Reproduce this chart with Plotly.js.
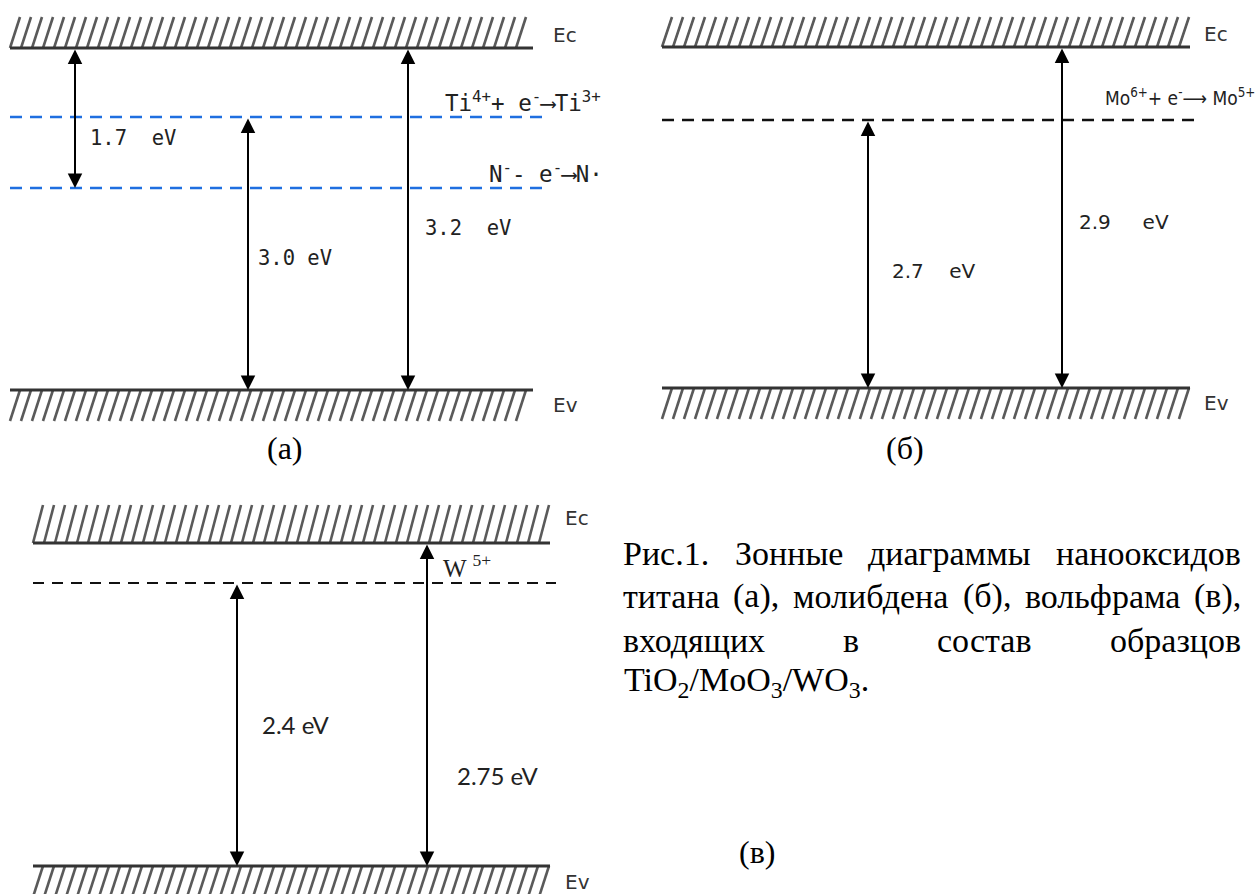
<!DOCTYPE html>
<html>
<head>
<meta charset="utf-8">
<script src="https://cdn.plot.ly/plotly-3.0.1.min.js"></script>
<style>html,body{margin:0;padding:0;background:#fff;}#chart{width:1256px;height:894px;}</style>
</head>
<body>
<div id="chart"></div>
<script>
// ---------------- DATA ----------------
const bandEdges = ['Ec', 'Ev'];
const panelTags = ['(a)', '(б)', '(в)'];

// panel (a) TiO2
const tiGaps = [1.7, 3.0, 3.2];
const tiLevels = ['Ti<sup>4+</sup>+ e<sup>-</sup>⟶Ti<sup>3+</sup>', 'N<sup>-</sup>- e<sup>-</sup>⟶N·'];
// panel (б) MoO3
const moGaps = [2.7, 2.9];
const moLevels = ['Mo<sup>6+</sup>+ e<sup>-</sup>⟶ Mo<sup>5+</sup>'];
// panel (в) WO3
const wGaps = [2.4, 2.75];
const wLevels = ['W <sup>5+</sup>'];

const captionLines = [
  'Рис.1. Зонные диаграммы нанооксидов',
  'титана (а), молибдена (б), вольфрама (в),',
  'входящих в состав образцов',
  'TiO<sub>2</sub>/MoO<sub>3</sub>/WO<sub>3</sub>.'
];

// ---------------- GEOMETRY / STYLE ----------------
const W = 1256, H = 894;
const geom = [
  { // (a)
    x0: 10, x1: 533, ec: 48, ecTop: 17, ev: 390, evBot: 421,
    levels: [117, 188], levelX1: 545, levelColor: '#1f6fe0', levelDash: '12px,8px', levelWidth: 2.5,
    arrows: [{x: 75, a: 'Ec', b: 1}, {x: 248, a: 0, b: 'Ev'}, {x: 408, a: 'Ec', b: 'Ev'}],
    gapPos: [[88, 138], [256, 258], [423, 228]], gapSpaces: [2, 1, 2],
    levelPos: [[443, 101], [487, 172]],
    edgeX: 551, ecLabY: 35, evLabY: 405,
    font: 'DejaVu Sans Mono', fontSize: 20.5, levelFont: 'DejaVu Sans Mono', levelFontSize: 22.5,
    tag: [285, 448]
  },
  { // (б)
    x0: 662, x1: 1190, ec: 47, ecTop: 17, ev: 388, evBot: 419,
    levels: [120], levelX1: 1196, levelColor: '#111', levelDash: '12px,8px', levelWidth: 2.5,
    arrows: [{x: 868, a: 0, b: 'Ev'}, {x: 1062, a: 'Ec', b: 'Ev'}],
    gapPos: [[890, 271], [1077, 222]], gapSpaces: [4, 5],
    levelPos: [[1103, 97]],
    edgeX: 1202, ecLabY: 34, evLabY: 403,
    font: 'DejaVu Sans', fontSize: 20, levelFont: 'DejaVu Sans Condensed', levelFontSize: 19,
    tag: [905, 448]
  },
  { // (в)
    x0: 33, x1: 550, ec: 543, ecTop: 505, ev: 866, evBot: 897,
    levels: [583], levelX1: 556, levelColor: '#111', levelDash: '11px,8px', levelWidth: 2.2,
    arrows: [{x: 237, a: 0, b: 'Ev'}, {x: 427, a: 'Ec', b: 'Ev'}],
    gapPos: [[260, 724], [455, 775]], gapSpaces: [1, 1],
    levelPos: [[441, 566]],
    edgeX: 563, ecLabY: 518, evLabY: 882,
    font: 'Lato', fontSize: 24, levelFont: 'Liberation Serif', levelFontSize: 25,
    tag: [757, 852]
  }
];
const gapSets = [tiGaps, moGaps, wGaps];
const levelSets = [tiLevels, moLevels, wLevels];

const captionFont = 'Liberation Serif', captionSize = 34, tagSize = 32;
const captionLeft = 622, captionRight = 1240, captionY = [553, 596, 640, 682];

// ---------------- BUILD ----------------
const traces = [];
const annotations = [];

function hatch(x0, x1, yA, yB, step, run) {
  const bot = Math.max(yA, yB), top = Math.min(yA, yB);
  const xs = [], ys = [];
  for (let x = x0; x + run <= x1 + 0.5; x += step) {
    xs.push(x, x + run, null);
    ys.push(bot, top, null);
  }
  return {type: 'scatter', mode: 'lines', x: xs, y: ys, hoverinfo: 'skip',
    line: {color: '#5a5a5a', width: 2.6}, cliponaxis: false};
}

function fmtGap(v) {
  return Number.isInteger(Math.round(v * 100) / 10) ? v.toFixed(1) : v.toFixed(2);
}

geom.forEach((g, i) => {
  traces.push(hatch(g.x0, g.x1, g.ec, g.ecTop, 11, 10));
  traces.push(hatch(g.x0, g.x1, g.ev, g.evBot, 11, 10));
  [g.ec, g.ev].forEach(y => {
    traces.push({type: 'scatter', mode: 'lines', x: [g.x0, g.x1], y: [y, y], hoverinfo: 'skip',
      line: {color: '#333', width: 3}, cliponaxis: false});
  });
  g.levels.forEach(y => {
    traces.push({type: 'scatter', mode: 'lines', x: [g.x0, g.levelX1], y: [y, y], hoverinfo: 'skip',
      line: {color: g.levelColor, width: g.levelWidth, dash: g.levelDash}, cliponaxis: false});
  });
  bandEdges.forEach((name, k) => {
    annotations.push({x: g.edgeX, y: k === 0 ? g.ecLabY : g.evLabY, xref: 'x', yref: 'y',
      text: name, showarrow: false, xanchor: 'left', yanchor: 'middle',
      font: {family: 'DejaVu Sans', size: 20, color: '#333'}});
  });
  const yOf = key => key === 'Ec' ? g.ec : key === 'Ev' ? g.ev : g.levels[key];
  g.arrows.forEach(a => {
    annotations.push({x: a.x, y: yOf(a.b), ax: a.x, ay: yOf(a.a), xref: 'x', yref: 'y', axref: 'x', ayref: 'y',
      text: '', showarrow: true, arrowhead: 2, startarrowhead: 2, arrowside: 'end+start',
      arrowsize: 1.45, startarrowsize: 1.45, arrowwidth: 2, arrowcolor: '#000', standoff: 0, startstandoff: 0});
  });
  gapSets[i].forEach((v, k) => {
    const p = g.gapPos[k];
    annotations.push({x: p[0], y: p[1], xref: 'x', yref: 'y', showarrow: false, xanchor: 'left', yanchor: 'middle',
      text: fmtGap(v) + '\u00a0'.repeat(g.gapSpaces[k]) + 'eV',
      font: {family: g.font, size: g.fontSize, color: '#222'}});
  });
  levelSets[i].forEach((t, k) => {
    const p = g.levelPos[k];
    annotations.push({x: p[0], y: p[1], xref: 'x', yref: 'y', showarrow: false, xanchor: 'left', yanchor: 'middle',
      text: t, font: {family: g.levelFont, size: g.levelFontSize, color: '#222'}});
  });
  annotations.push({x: g.tag[0], y: g.tag[1], xref: 'x', yref: 'y', showarrow: false, xanchor: 'center', yanchor: 'middle',
    text: panelTags[i], font: {family: captionFont, size: tagSize, color: '#000'}});
});

// caption: justified lines, last line left-aligned
const ctx = document.createElement('canvas').getContext('2d');
ctx.font = captionSize + 'px "' + captionFont + '"';
captionLines.forEach((line, li) => {
  const last = li === captionLines.length - 1;
  if (last) {
    annotations.push({x: captionLeft, y: captionY[li], xref: 'x', yref: 'y', showarrow: false,
      xanchor: 'left', yanchor: 'middle', text: line, font: {family: captionFont, size: captionSize, color: '#000'}});
    return;
  }
  const words = line.split(' ');
  const widths = words.map(w => ctx.measureText(w).width);
  const total = widths.reduce((s, w) => s + w, 0);
  const gap = Math.max(6, (captionRight - captionLeft - total) / (words.length - 1));
  let x = captionLeft;
  words.forEach((w, k) => {
    annotations.push({x: x, y: captionY[li], xref: 'x', yref: 'y', showarrow: false,
      xanchor: 'left', yanchor: 'middle', text: w, borderpad: 0,
      font: {family: captionFont, size: captionSize, color: '#000'}});
    x += widths[k] + gap;
  });
});

const layout = {
  width: W, height: H, margin: {l: 0, r: 0, t: 0, b: 0},
  paper_bgcolor: '#fff', plot_bgcolor: '#fff', showlegend: false,
  xaxis: {range: [0, W], visible: false, fixedrange: true},
  yaxis: {range: [H, 0], visible: false, fixedrange: true},
  annotations: annotations
};

Plotly.newPlot('chart', traces, layout, {staticPlot: true, displayModeBar: false});
</script>
</body>
</html>
